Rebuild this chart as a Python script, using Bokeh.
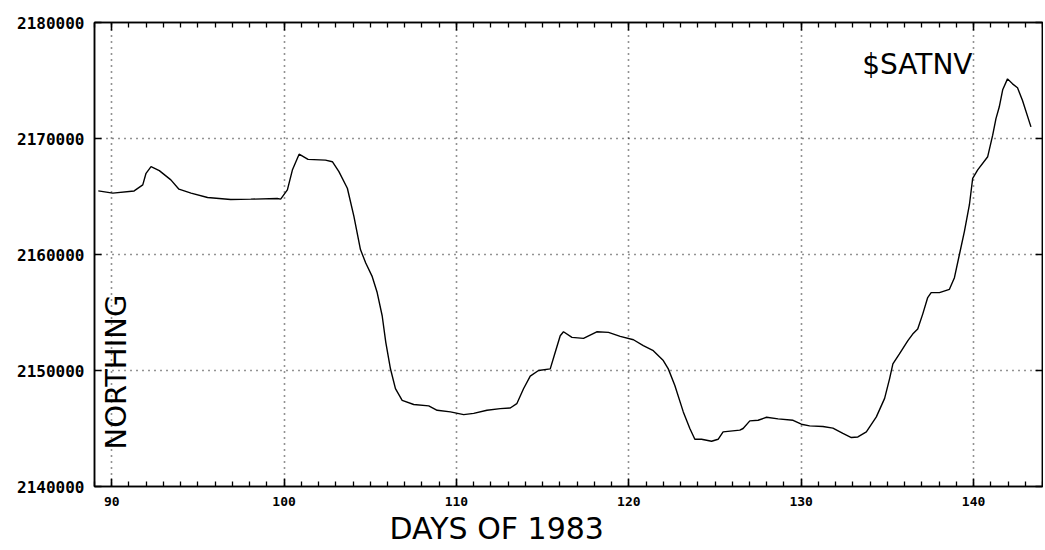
import math
from bokeh.plotting import figure
from bokeh.models import (Range1d, LinearAxis, SingleIntervalTicker, Label, Title,
                          BasicTickFormatter, CustomJSTickFormatter)
from bokeh.embed import file_html
from bokeh.resources import INLINE

# ---- data ----
days = [89.22, 90.06, 91.3, 91.8, 91.99, 92.28, 92.76, 93.43, 93.9, 94.6,
        95.56, 96.9, 98.07, 99.6, 99.8, 100.19, 100.48, 100.87, 101.39, 102.4,
        102.8, 103.18, 103.67, 104.05, 104.43, 104.73, 105.1, 105.4, 105.69, 105.9,
        106.17, 106.46, 106.85, 107.52, 108.39, 108.88, 109.65, 110.42, 111.0, 111.77,
        112.54, 113.12, 113.5, 113.89, 114.28, 114.76, 115.44, 115.73, 116.02, 116.21,
        116.7, 117.37, 118.14, 118.82, 119.5, 120.27, 120.84, 121.42, 122.0, 122.29,
        122.67, 123.16, 123.54, 123.83, 124.22, 124.8, 125.18, 125.47, 126.44, 126.63,
        127.02, 127.5, 127.99, 128.66, 129.53, 130.01, 130.49, 131.26, 131.84, 132.42,
        132.91, 133.29, 133.78, 134.36, 134.84, 135.13, 135.32, 135.7, 136.19, 136.47,
        136.76, 137.05, 137.34, 137.54, 138.02, 138.6, 138.89, 139.18, 139.47, 139.76,
        139.95, 140.24, 140.82, 141.11, 141.3, 141.49, 141.69, 141.97, 142.26, 142.55,
        142.84, 143.33]
northing = [2165480, 2165290, 2165480, 2166000, 2167000, 2167570, 2167230, 2166430, 2165630, 2165290,
            2164910, 2164740, 2164770, 2164830, 2164770, 2165570, 2167280, 2168650, 2168200, 2168140,
            2168000, 2167140, 2165710, 2163280, 2160430, 2159290, 2158140, 2156720, 2154720, 2152430,
            2150150, 2148440, 2147430, 2147070, 2146950, 2146570, 2146430, 2146200, 2146300, 2146570,
            2146710, 2146770, 2147140, 2148430, 2149510, 2150000, 2150140, 2151570, 2153000, 2153340,
            2152860, 2152770, 2153340, 2153290, 2152940, 2152650, 2152140, 2151710, 2150860, 2150140,
            2148710, 2146430, 2145000, 2144070, 2144070, 2143900, 2144070, 2144710, 2144860, 2145000,
            2145660, 2145710, 2145970, 2145830, 2145710, 2145370, 2145230, 2145170, 2145030, 2144570,
            2144220, 2144270, 2144710, 2146000, 2147600, 2149300, 2150570, 2151430, 2152570, 2153140,
            2153570, 2154860, 2156290, 2156710, 2156710, 2157000, 2158000, 2160000, 2162000, 2164290,
            2166570, 2167290, 2168430, 2170290, 2171710, 2172710, 2174200, 2175140, 2174710, 2174370,
            2173280, 2171000]

x_range_lim = [89.0, 144.0]
y_range_lim = [2140000, 2180000]
x_tick_interval = 10
y_tick_interval = 10000

title_text = "$SATNV"
x_label_text = "DAYS OF 1983"
y_label_text = "NORTHING"

# ---- figure ----
p = figure(frame_width=948, frame_height=464,
           x_range=Range1d(*x_range_lim), y_range=Range1d(*y_range_lim),
           output_backend="svg", toolbar_location=None,
           min_border_left=94, min_border_top=22, min_border_right=1,
           min_border_bottom=10, background_fill_color="white",
           border_fill_color="white")
p.outline_line_color = "black"
p.outline_line_width = 1.5

xt = SingleIntervalTicker(interval=x_tick_interval, num_minor_ticks=10)
yt = SingleIntervalTicker(interval=y_tick_interval, num_minor_ticks=0)

xa = p.xaxis[0]
xa.ticker = xt
ya = p.yaxis[0]
ya.ticker = yt
ya.formatter = BasicTickFormatter(use_scientific=False)

for ax in (xa, ya):
    ax.axis_line_color = "black"
    ax.axis_line_width = 1.5
    ax.major_tick_line_color = "black"
    ax.major_tick_line_width = 1.5
    ax.minor_tick_line_color = "black"
    ax.minor_tick_line_width = 1.3
    ax.major_tick_out = 0
    ax.minor_tick_out = 0
    ax.major_label_standoff = 10
    ax.major_label_text_font = "DejaVu Sans Mono"
    ax.major_label_text_font_style = "bold"
    ax.major_label_text_color = "black"

xa.major_tick_in = 8
xa.minor_tick_in = 5
xa.major_label_text_font_size = "13px"
ya.major_tick_in = 7
ya.minor_tick_in = 0
ya.major_label_text_font_size = "16px"

blank = CustomJSTickFormatter(code="return ''")
top = LinearAxis(ticker=SingleIntervalTicker(interval=x_tick_interval, num_minor_ticks=10),
                 formatter=blank, major_tick_in=8, major_tick_out=0,
                 minor_tick_in=5, minor_tick_out=0, major_label_standoff=0,
                 axis_line_color="black", axis_line_width=1.5,
                 major_tick_line_width=1.5, minor_tick_line_width=1.3,
                 major_label_text_font_size="1px")
right = LinearAxis(ticker=SingleIntervalTicker(interval=y_tick_interval, num_minor_ticks=0),
                   formatter=blank, major_tick_in=7, major_tick_out=0,
                   minor_tick_in=0, minor_tick_out=0, major_label_standoff=0,
                   axis_line_color="black", axis_line_width=1.5,
                   major_tick_line_width=1.5,
                   major_label_text_font_size="1px")
p.add_layout(top, "above")
p.add_layout(right, "right")

p.xgrid.ticker = xt
p.ygrid.ticker = yt
for g in (p.xgrid, p.ygrid):
    g.grid_line_color = "black"
    g.grid_line_width = 1.6
    g.grid_line_dash = "1 5"
    g.grid_line_alpha = 0.85

p.line(days, northing, line_color="black", line_width=1.4)

p.add_layout(Label(x=878, y=422, x_units="screen", y_units="screen",
                   text=title_text, text_align="right", text_baseline="alphabetic",
                   text_font="DejaVu Sans", text_font_size="28px", text_color="black"))
p.add_layout(Label(x=21, y=114.5, x_units="screen", y_units="screen",
                   text=y_label_text, angle=math.pi / 2, text_align="center",
                   text_baseline="middle", text_font="DejaVu Sans",
                   text_font_size="29px", text_color="black"))
p.add_layout(Title(text=x_label_text, align="left", offset=295, standoff=1,
                   text_font="DejaVu Sans", text_font_size="30px",
                   text_font_style="normal", text_color="black"), "below")

open("out.html", "w").write(file_html(p, INLINE))
